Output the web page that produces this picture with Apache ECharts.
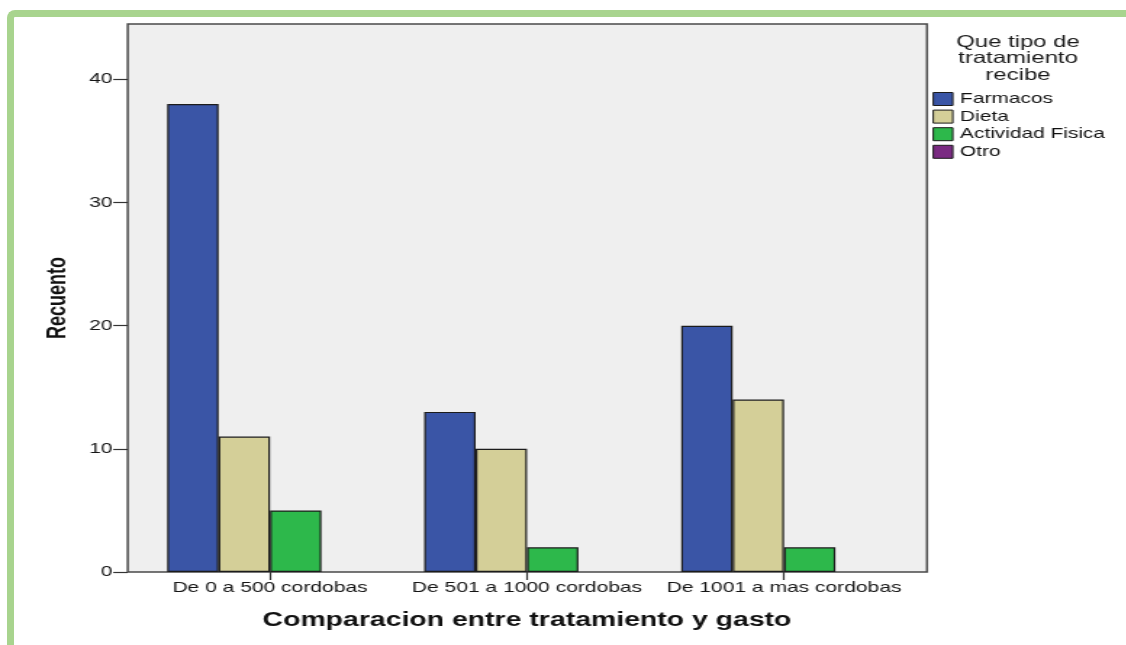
<!DOCTYPE html>
<html>
<head>
<meta charset="utf-8">
<script src="https://cdn.jsdelivr.net/npm/echarts@6/dist/echarts.min.js"></script>
<style>
  html, body { margin: 0; padding: 0; background: #ffffff; overflow: hidden; }
  #wrap { position: relative; width: 1126px; height: 645px; overflow: hidden; background: #ffffff; }
  #frame {
    position: absolute; left: 7px; top: 10px; width: 1300px; height: 800px;
    border-left: 7px solid #A8D48E; border-top: 7px solid #A8D48E;
    border-top-left-radius: 8px; box-sizing: border-box;
  }
  #chart {
    position: absolute; left: 0; top: 0; height: 645px;
    transform-origin: 0 0;
  }
</style>
</head>
<body>
<div id="wrap">
  <div id="frame"></div>
  <div id="chart"></div>
</div>
<script>
// Counts of treatment type per spending bracket
const categories = ['De 0 a 500 cordobas', 'De 501 a 1000 cordobas', 'De 1001 a mas cordobas'];
const farmacos = [38, 13, 20];
const dieta = [11, 10, 14];
const actividadFisica = [5, 2, 2];
const otro = [0, 0, 0];
const yTicks = [0, 10, 20, 30, 40];
const seriesNames = ['Farmacos', 'Dieta', 'Actividad Fisica', 'Otro'];

// The chart is laid out in a narrower space and stretched horizontally,
// which gives the wide SPSS-style lettering.
const SX = 1.45;
const W = 1126, H = 645;
const px = x => x / SX;

const chartEl = document.getElementById('chart');
chartEl.style.width = (W / SX) + 'px';
chartEl.style.transform = 'scaleX(' + SX + ')';

const FONT = "'Liberation Sans', Arial, Helvetica, sans-serif";
const colors = ['#3A55A6', '#D4CF98', '#2DB84B', '#7A2A82'];

const plotTop = 24, plotBottom = 572;
const yMax = 44.5;

const chart = echarts.init(chartEl, null, { renderer: 'canvas' });

const barSeries = [farmacos, dieta, actividadFisica, otro].map((vals, i) => ({
  name: seriesNames[i],
  type: 'bar',
  xAxisIndex: 1,
  yAxisIndex: 1,
  data: vals,
  barGap: '0%',
  barCategoryGap: '20%',
  itemStyle: {
    color: colors[i],
    borderColor: '#1c1c1c',
    // empty bars leave no outline on the axis
    borderWidth: vals.some(v => v > 0) ? 1.2 : 0
  },
  emphasis: { disabled: true },
  animation: false
}));

chart.setOption({
  animation: false,
  textStyle: { fontFamily: FONT },
  grid: [
    { // plot frame
      left: px(127.7), width: px(927 - 127.7), top: plotTop, height: plotBottom - plotTop,
      show: true, backgroundColor: '#EFEFEF', borderColor: '#4a4a4a', borderWidth: 1.5, z: 0
    },
    { // bar area
      left: px(141.5), width: px(771), top: plotTop, height: plotBottom - plotTop
    }
  ],
  xAxis: [
    { type: 'category', gridIndex: 0, data: categories, show: false },
    {
      type: 'category', gridIndex: 1, data: categories,
      axisLine: { show: false },
      axisTick: { show: true, alignWithLabel: true, length: 8, lineStyle: { color: '#333', width: 1.2 } },
      axisLabel: { color: '#151515', fontSize: 14.5, margin: 8, interval: 0, hideOverlap: false, fontFamily: FONT },
      name: 'Comparacion entre tratamiento y gasto',
      nameLocation: 'middle', nameGap: 39,
      nameTextStyle: { fontSize: 19.6, fontWeight: 'bold', color: '#111', fontFamily: FONT }
    }
  ],
  yAxis: [
    {
      type: 'value', gridIndex: 0, min: 0, max: yMax,
      axisLine: { show: false },
      splitLine: { show: false },
      axisTick: { show: true, length: 10, customValues: yTicks, lineStyle: { color: '#333', width: 1.2 } },
      axisLabel: { color: '#151515', fontSize: 14.5, margin: 10.5, customValues: yTicks, fontFamily: FONT },
      name: 'Recuento', nameLocation: 'middle', nameRotate: 90, nameGap: 39,
      nameTextStyle: { fontSize: 18, fontWeight: 'bold', color: '#111', fontFamily: FONT }
    },
    { type: 'value', gridIndex: 1, min: 0, max: yMax, show: false }
  ],
  legend: {
    orient: 'vertical',
    left: px(932.5), top: 92,
    padding: 0,
    itemWidth: 13.5, itemHeight: 13, itemGap: 3.6,
    icon: 'rect',
    selectedMode: false,
    data: seriesNames,
    itemStyle: { borderColor: '#1c1c1c', borderWidth: 1 },
    textStyle: { fontSize: 14.4, color: '#111', fontFamily: FONT }
  },
  graphic: [
    {
      type: 'text',
      x: px(1018), y: 34,
      style: {
        text: 'Que tipo de\ntratamiento\nrecibe',
        align: 'center', verticalAlign: 'top',
        font: '16.5px ' + FONT, lineHeight: 16.5, fill: '#1a1a1a'
      },
      silent: true
    }
  ],
  series: barSeries
});
</script>
</body>
</html>
